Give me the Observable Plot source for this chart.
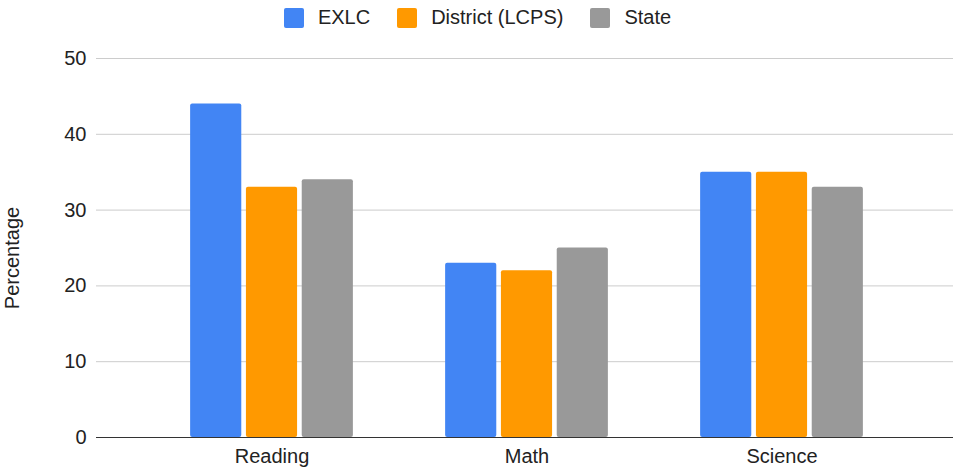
<!DOCTYPE html>
<html><head><meta charset="utf-8">
<script src="https://cdn.jsdelivr.net/npm/d3@7"></script>
<script src="https://cdn.jsdelivr.net/npm/@observablehq/plot@0.6"></script>
<style>
body{margin:0;background:#fff;font-family:"Liberation Sans",Arial,sans-serif;}
#legend{height:35px;display:flex;justify-content:center;align-items:center;font-size:20px;color:#222;}
.item{display:flex;align-items:center;margin:0 13.5px;}
.sw{width:20px;height:20px;border-radius:2px;margin-right:14px;}
</style></head><body>
<div id="legend"></div><div id="chart"></div>
<script>
const subjects = ["Reading", "Math", "Science"];
const seriesNames = ["EXLC", "District (LCPS)", "State"];
const exlc = [44, 23, 35];
const district = [33, 22, 35];
const state = [34, 25, 33];
const colors = ["#4285F4", "#FF9900", "#999999"];
const yTicks = [0, 10, 20, 30, 40, 50];
const yLabel = "Percentage";

const seriesValues = [exlc, district, state];

const legend = document.getElementById("legend");
seriesNames.forEach((n, i) => {
  const it = document.createElement("div"); it.className = "item";
  const sw = document.createElement("div"); sw.className = "sw"; sw.style.background = colors[i];
  const t = document.createElement("span"); t.textContent = n;
  it.append(sw, t); legend.append(it);
});

// layout: group band width, bar width and bar step (pixels)
const barW = 52, barStep = 55.8, bandW = 255.85;
const inset = (bandW - barW) / 2;

const barMarks = seriesValues.map((vals, j) =>
  Plot.barY(subjects.map((s, i) => ({subject: s, series: seriesNames[j], value: vals[i]})), {
    x: "subject", y: "value", fill: "series", rx: 2,
    insetLeft: inset, insetRight: inset, dx: (j - 1) * barStep
  })
);

const plot = Plot.plot({
  width: 955, height: 433, marginTop: 23, marginBottom: 31, marginLeft: 96, marginRight: 2,
  style: {fontFamily: "Liberation Sans, Arial, sans-serif", fontSize: "20px", color: "#222", background: "#fff"},
  x: {domain: subjects, range: [142.4, 909.9], padding: 0, label: null},
  y: {domain: [0, 50], label: null},
  color: {domain: seriesNames, range: colors},
  marks: [
    Plot.ruleY(yTicks.filter(d => d > 0), {stroke: "#cccccc", strokeWidth: 1}),
    Plot.axisY(yTicks, {anchor: "left", tickSize: 0, tickPadding: 10, label: null, fill: "#222"}),
    Plot.text([yLabel], {frameAnchor: "left", textAnchor: "middle", dx: -84, dy: 10, rotate: -90, fill: "#222", fontSize: 20}),
    ...barMarks,
    Plot.ruleY([0], {stroke: "#333333", strokeWidth: 1}),
    Plot.axisX({anchor: "bottom", tickSize: 0, tickPadding: 11, label: null, fill: "#222"})
  ]
});
document.getElementById("chart").append(plot);
</script></body></html>
